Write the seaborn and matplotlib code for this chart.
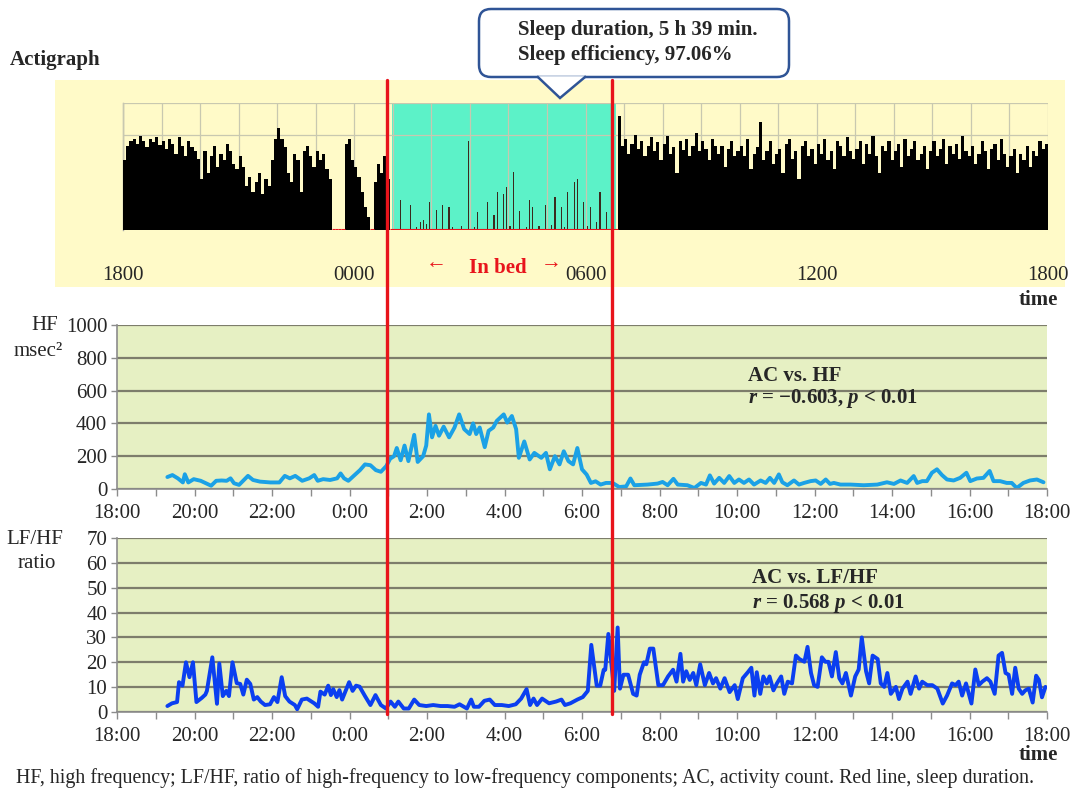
import numpy as np
import matplotlib
matplotlib.use("Agg")
import matplotlib.pyplot as plt
import matplotlib.transforms as mtransforms
from matplotlib.lines import Line2D
from matplotlib.patches import Rectangle, FancyBboxPatch, Polygon
import seaborn as sns

# ---- data (hours counted from 18:00) ----
sleep_onset = 6.97    # in bed start
sleep_offset = 12.78  # in bed end

# actigraph activity counts, 5-min bins from 18:00 (relative units)
activity = [
    55, 66, 70, 72, 68, 74, 70, 65, 72, 69, 73, 67,
    70, 64, 72, 68, 60, 73, 66, 58, 70, 65, 62, 56,
    40, 62, 45, 58, 66, 50, 60, 55, 68, 62, 52, 48,
    58, 50, 35, 42, 30, 38, 45, 28, 40, 35, 55, 72,
    80, 72, 65, 45, 38, 60, 55, 30, 62, 66, 58, 50,
    62, 55, 60, 48, 40, 0, 0, 0, 0, 68, 72, 55,
    50, 42, 30, 18, 10, 0, 38, 52, 45, 58, 40, 0,
    0, 0, 24, 0, 0, 20, 0, 2, 6, 8, 5, 22,
    0, 16, 0, 20, 0, 18, 2, 0, 0, 3, 0, 70,
    0, 2, 14, 0, 0, 22, 0, 12, 30, 0, 28, 34,
    3, 46, 0, 15, 0, 2, 24, 18, 0, 3, 0, 20,
    0, 4, 26, 0, 18, 2, 30, 0, 38, 40, 0, 22,
    3, 18, 0, 6, 30, 0, 14, 0, 12, 0, 90, 66,
    72, 60, 68, 75, 64, 70, 58, 66, 73, 62, 69, 55,
    68, 74, 60, 65, 45, 70, 63, 72, 58, 66, 76, 62,
    70, 64, 55, 72, 66, 60, 66, 50, 64, 70, 58, 62,
    66, 58, 72, 48, 60, 65, 85, 55, 62, 70, 52, 60,
    64, 45, 68, 72, 56, 62, 40, 66, 70, 58, 64, 52,
    68, 60, 72, 55, 62, 48, 70, 66, 58, 73, 62, 56,
    64, 70, 52, 68, 60, 74, 58, 45, 66, 62, 70, 55,
    62, 68, 50, 72, 58, 64, 70, 55, 60, 66, 48, 62,
    70, 58, 64, 72, 52, 66, 60, 68, 56, 74, 62, 58,
    66, 52, 60, 70, 62, 48, 64, 68, 55, 72, 60, 50,
    58, 64, 45, 60, 55, 66, 50, 62, 58, 70, 64, 68,
]

hf_hours = [
    1.30, 1.43, 1.57, 1.70, 1.75, 1.84, 1.98, 2.16, 2.34, 2.43, 2.56, 2.70,
    2.83, 2.93, 3.02, 3.15, 3.38, 3.51, 3.69, 3.96, 4.19, 4.33, 4.46, 4.60,
    4.78, 4.96, 5.09, 5.18, 5.32, 5.50, 5.68, 5.77, 5.86, 5.97, 6.13, 6.27,
    6.40, 6.54, 6.68, 6.81, 6.95, 7.05, 7.15, 7.22, 7.32, 7.42, 7.52, 7.67,
    7.76, 7.90, 7.98, 8.05, 8.13, 8.22, 8.31, 8.43, 8.57, 8.71, 8.83, 8.96,
    9.10, 9.19, 9.27, 9.36, 9.49, 9.59, 9.71, 9.80, 9.98, 10.07, 10.19, 10.30,
    10.37, 10.51, 10.65, 10.77, 10.95, 11.07, 11.17, 11.30, 11.42, 11.53, 11.65, 11.77,
    11.88, 12.00, 12.12, 12.23, 12.35, 12.48, 12.62, 12.79, 12.96, 13.14, 13.25, 13.35,
    13.69, 13.95, 14.08, 14.21, 14.36, 14.47, 14.72, 14.90, 15.07, 15.20, 15.30, 15.41,
    15.54, 15.67, 15.80, 15.93, 16.05, 16.18, 16.31, 16.44, 16.61, 16.74, 16.85, 16.96,
    17.08, 17.17, 17.30, 17.47, 17.60, 17.73, 17.90, 18.03, 18.16, 18.29, 18.40, 18.50,
    18.67, 18.93, 19.27, 19.62, 19.87, 20.05, 20.22, 20.39, 20.56, 20.65, 20.78, 20.90,
    21.03, 21.16, 21.29, 21.42, 21.59, 21.76, 21.92, 22.02, 22.19, 22.36, 22.52, 22.62,
    22.79, 22.96, 23.09, 23.22, 23.39, 23.56, 23.74, 23.91,
]
hf_values = [
    73, 85, 65, 40, 90, 40, 60, 50, 30, 20, 50, 52,
    50, 65, 35, 25, 80, 55, 45, 40, 40, 80, 65, 80,
    50, 65, 85, 50, 60, 55, 65, 95, 65, 50, 85, 115,
    150, 145, 115, 105, 140, 185, 200, 250, 175, 265, 170, 330,
    165, 200, 265, 455, 315, 385, 325, 380, 315, 375, 455, 365,
    335, 400, 335, 375, 255, 355, 375, 415, 455, 405, 445, 365,
    190, 290, 180, 220, 190, 220, 120, 200, 150, 230, 170, 150,
    250, 120, 88, 37, 47, 27, 37, 37, 12, 16, 64, 23,
    27, 33, 43, 23, 62, 27, 23, 6, 37, 27, 83, 33,
    68, 37, 79, 37, 58, 37, 58, 27, 52, 37, 68, 37,
    89, 41, 23, 52, 27, 37, 48, 52, 31, 58, 31, 37,
    27, 27, 23, 27, 41, 31, 52, 37, 79, 37, 48, 48,
    99, 120, 85, 58, 52, 68, 99, 48, 64, 68, 110, 48,
    48, 37, 37, 6, 37, 52, 58, 41,
]

lf_hours = [
    1.30, 1.42, 1.55, 1.60, 1.69, 1.78, 1.87, 1.96, 2.05, 2.19, 2.28, 2.32,
    2.46, 2.58, 2.64, 2.73, 2.82, 2.89, 2.98, 3.09, 3.18, 3.26, 3.35, 3.44,
    3.53, 3.62, 3.71, 3.82, 3.95, 4.05, 4.14, 4.25, 4.34, 4.45, 4.59, 4.65,
    4.77, 4.90, 5.09, 5.19, 5.25, 5.36, 5.45, 5.52, 5.58, 5.67, 5.74, 5.81,
    5.90, 5.99, 6.08, 6.17, 6.26, 6.40, 6.54, 6.67, 6.81, 6.94, 7.06, 7.17,
    7.26, 7.40, 7.53, 7.67, 7.80, 7.98, 8.16, 8.35, 8.53, 8.71, 8.84, 9.03,
    9.14, 9.21, 9.34, 9.48, 9.62, 9.75, 9.93, 10.11, 10.29, 10.43, 10.57, 10.66,
    10.75, 10.84, 10.97, 11.15, 11.33, 11.47, 11.56, 11.70, 11.88, 12.02, 12.15, 12.24,
    12.38, 12.47, 12.56, 12.60, 12.68, 12.83, 12.92, 12.98, 13.07, 13.19, 13.32, 13.41,
    13.49, 13.60, 13.66, 13.75, 13.84, 13.97, 14.09, 14.22, 14.35, 14.44, 14.54, 14.61,
    14.69, 14.78, 14.87, 14.95, 15.05, 15.17, 15.28, 15.38, 15.46, 15.57, 15.68, 15.81,
    15.94, 16.02, 16.15, 16.28, 16.37, 16.45, 16.51, 16.60, 16.68, 16.77, 16.84, 16.94,
    17.03, 17.14, 17.22, 17.31, 17.42, 17.52, 17.61, 17.74, 17.82, 17.91, 17.99, 18.08,
    18.19, 18.28, 18.36, 18.45, 18.55, 18.64, 18.72, 18.81, 18.94, 19.05, 19.14, 19.22,
    19.33, 19.41, 19.50, 19.63, 19.71, 19.80, 19.88, 19.97, 20.10, 20.18, 20.27, 20.40,
    20.48, 20.61, 20.70, 20.78, 20.91, 21.04, 21.17, 21.31, 21.42, 21.55, 21.64, 21.72,
    21.81, 21.91, 22.05, 22.15, 22.24, 22.33, 22.45, 22.54, 22.65, 22.75, 22.84, 22.93,
    23.01, 23.10, 23.18, 23.27, 23.36, 23.44, 23.53, 23.63, 23.72, 23.79, 23.87, 23.96,
]
lf_values = [
    2.4, 3.5, 4, 12, 10.6, 20, 14, 20, 4, 5.7, 7, 8.5,
    22, 3.3, 19.5, 6.4, 8.5, 6.4, 20, 11.6, 11.3, 7, 13, 11.3,
    5, 6, 4.2, 2.8, 3.1, 6, 4, 14, 6.4, 4.2, 2.8, 1.1,
    5, 5.4, 3.5, 2.1, 8.2, 7, 10.6, 6.8, 9.2, 6, 8.8, 5,
    8.5, 12, 8.5, 10.6, 10.2, 6.4, 2.8, 6.8, 2.8, 1.4, 4.2, 2.1,
    4.2, 1.4, 1.4, 5, 2.8, 2.4, 2.8, 2.4, 2.4, 2.1, 3.1, 1.4,
    5, 2.1, 2.1, 4.5, 5, 2.8, 2.8, 2.4, 3.1, 5.4, 9.2, 2.8,
    5.4, 2.8, 5.4, 3.5, 4.2, 5, 2.8, 3.5, 5, 6, 8.5, 27,
    10.6, 10.6, 17, 17, 31.4, 8.5, 34, 9.4, 15, 15, 7.3, 6.6,
    15, 20, 19.2, 25.5, 25.5, 10.8, 10.8, 14.3, 17, 12.2, 23.4, 12.2,
    16.4, 12.9, 15.7, 10.8, 19.2, 10.8, 15.7, 11.5, 13.6, 9.4, 13.6, 8,
    10.8, 5.2, 13.6, 16, 17.8, 6.6, 16, 7.3, 14.3, 11.5, 14.3, 8.7,
    11.5, 14.3, 7.3, 12.2, 11.5, 22.7, 21.3, 20.2, 26.2, 15.7, 10.8, 10.1,
    22, 20.2, 20.2, 14.3, 24.1, 13.6, 11.5, 15.7, 6.6, 14.3, 17.1, 30,
    16.4, 11.5, 22.7, 21.3, 11.5, 10.1, 15.7, 7.3, 10.1, 5.2, 9.4, 12.2,
    7.3, 14.3, 9.4, 12.2, 10.8, 10.8, 9.4, 3.4, 6.6, 11.5, 10.8, 12.2,
    6.6, 11.5, 3.4, 17.1, 10.8, 12.2, 13.6, 12.2, 7.3, 22.7, 23.8, 15.7,
    15, 7.3, 17.8, 9.4, 7.3, 8.7, 9.4, 3.8, 14.6, 12.9, 5.9, 10.1,
]

acti_tick_labels = ["1800", "0000", "0600", "1200", "1800"]
clock_labels = ["18:00", "20:00", "22:00", "0:00", "2:00", "4:00", "6:00",
                "8:00", "10:00", "12:00", "14:00", "16:00", "18:00"]

# ---- style ----
sns.set_theme(style="white")
plt.rcParams["font.family"] = ["Liberation Serif", "DejaVu Serif"]
plt.rcParams["mathtext.fontset"] = "custom"
plt.rcParams["mathtext.it"] = "Liberation Serif:italic:bold"
plt.rcParams["mathtext.rm"] = "Liberation Serif:bold"

YELLOW = "#FFFAC8"
GREEN = "#E6F0C3"
CYAN = "#5CF2C8"
GRID = "#7D7D6B"
RED = "#E8141B"
FS = 15

W, H = 1071, 790
fig = plt.figure(figsize=(W / 100, H / 100), dpi=100)


def box(x0, y0, x1, y1):
    # pixel box (top-left origin) -> figure fraction rect
    return [x0 / W, 1 - y1 / H, (x1 - x0) / W, (y1 - y0) / H]


# yellow backdrop of the actigraph
fig.add_artist(Rectangle((55 / W, 1 - 287 / H), 1010 / W, 207 / H,
                         transform=fig.transFigure, facecolor=YELLOW,
                         edgecolor="none", zorder=-1))

# ---- actigraph ----
ax_a = fig.add_axes(box(123, 103, 1048, 230))
ax_a.set_facecolor(YELLOW)
bin_start = np.arange(len(activity)) / 12.0
act = np.array(activity, dtype=float)
in_bed = (bin_start >= sleep_onset - 0.05) & (bin_start < sleep_offset)
ax_a.axvspan(sleep_onset, sleep_offset, color=CYAN, zorder=1, lw=0)
ax_a.bar(bin_start[~in_bed], act[~in_bed], width=1 / 12, align="edge",
         color="black", linewidth=0, zorder=3)
ax_a.bar(bin_start[in_bed] + 1 / 24, act[in_bed], width=0.03, align="center",
         color="#3B2A1E", linewidth=0, zorder=3)
zero = act == 0
ax_a.hlines(np.zeros(zero.sum()), bin_start[zero], bin_start[zero] + 1 / 12,
            color=RED, lw=2.2, zorder=4)
ax_a.hlines(0, sleep_onset, sleep_offset, color=RED, lw=2.2, zorder=4)
ax_a.set_xlim(0, 24)
ax_a.set_ylim(0, 100)
ax_a.set_yticks([75, 100])
ax_a.set_yticklabels([])
ax_a.set_xticks(np.arange(0, 25, 1), minor=True)
ax_a.set_xticks([0, 6, 12, 18, 24])
ax_a.set_xticklabels(acti_tick_labels, fontsize=FS)
ax_a.tick_params(axis="x", which="both", length=0, pad=26)
ax_a.tick_params(axis="y", length=0)
ax_a.grid(True, which="both", color="#C8C8B0", lw=0.9, zorder=2)
ax_a.set_axisbelow(False)
for side in ["top", "right", "bottom"]:
    ax_a.spines[side].set_visible(False)
ax_a.spines["left"].set_color("#A0A0A0")
ax_a.spines["left"].set_linewidth(1)


def style_panel(ax, yticks):
    ax.set_facecolor(GREEN)
    ax.set_xlim(0, 24)
    ax.set_ylim(yticks[0], yticks[-1])
    ax.set_yticks(yticks)
    ax.set_yticklabels([str(v) for v in yticks], fontsize=FS)
    ax.set_xticks(np.arange(0, 25, 1), minor=True)
    ax.set_xticks(np.arange(0, 25, 2))
    ax.set_xticklabels(clock_labels, fontsize=FS)
    ax.tick_params(axis="x", which="both", length=5, width=1, color="#8C8C8C",
                   direction="out", pad=6, bottom=True)
    ax.tick_params(axis="y", length=4, width=1, color="#8C8C8C",
                   direction="out", pad=3, left=True)
    ax.yaxis.grid(True, color=GRID, lw=1.6)
    ax.xaxis.grid(False)
    ax.set_axisbelow(True)
    for side in ["top", "right"]:
        ax.spines[side].set_visible(False)
    for side in ["left", "bottom"]:
        ax.spines[side].set_color("#8C8C8C")
        ax.spines[side].set_linewidth(1.2)
    ax.set_xlabel("")
    ax.set_ylabel("")


# ---- HF ----
ax_h = fig.add_axes(box(117, 325, 1047, 489))
sns.lineplot(x=hf_hours, y=hf_values, ax=ax_h, color="#1BA1E6", lw=2.8,
             estimator=None, sort=True)
style_panel(ax_h, [0, 200, 400, 600, 800, 1000])
ax_h.text(0.679, 0.69, "AC vs. HF", transform=ax_h.transAxes, fontsize=FS,
          fontweight="bold", va="center")
ax_h.text(0.679, 0.55, "$r$ = \u22120.603, $p$ < 0.01", transform=ax_h.transAxes,
          fontsize=FS, fontweight="bold", va="center")

# ---- LF/HF ----
ax_l = fig.add_axes(box(117, 538, 1047, 712))
sns.lineplot(x=lf_hours, y=lf_values, ax=ax_l, color="#0B3FF0", lw=2.8,
             estimator=None, sort=True)
style_panel(ax_l, [0, 10, 20, 30, 40, 50, 60, 70])
ax_l.text(0.683, 0.77, "AC vs. LF/HF", transform=ax_l.transAxes, fontsize=FS,
          fontweight="bold", va="center")
ax_l.text(0.683, 0.625, "$r$ = 0.568 $p$ < 0.01", transform=ax_l.transAxes,
          fontsize=FS, fontweight="bold", va="center")

# ---- red sleep lines across all panels ----
trans = mtransforms.blended_transform_factory(ax_h.transData, fig.transFigure)
for t in (sleep_onset, sleep_offset):
    fig.add_artist(Line2D([t, t], [1 - 80 / H, 1 - 714 / H], transform=trans,
                          color=RED, lw=2.4, zorder=6))

# ---- overlay annotations in pixel space ----
ov = fig.add_axes([0, 0, 1, 1], zorder=10)
ov.set_xlim(0, W)
ov.set_ylim(H, 0)
ov.axis("off")
ov.patch.set_alpha(0)

ov.add_patch(FancyBboxPatch((479, 9), 310, 68,
                            boxstyle="round,pad=0,rounding_size=12",
                            facecolor="white", edgecolor="#2F5496", lw=1.8))
ov.add_patch(Polygon([(537, 76.2), (560, 98), (586, 76.2)], closed=False,
                     facecolor="white", edgecolor="#2F5496", lw=1.8))
ov.text(518, 30, "Sleep duration, 5 h 39 min.", fontsize=FS, fontweight="bold",
        va="center")
ov.text(518, 55, "Sleep efficiency, 97.06%", fontsize=FS, fontweight="bold",
        va="center")

ov.text(10, 60, "Actigraph", fontsize=FS, fontweight="bold", va="center")
ov.text(436, 264, "\u2190", fontsize=FS, color=RED, ha="center", va="center")
ov.text(498, 268, "In bed", fontsize=FS, color=RED, fontweight="bold",
        ha="center", va="center")
ov.text(551, 264, "\u2192", fontsize=FS, color=RED, ha="center", va="center")
ov.text(1058, 300, "time", fontsize=FS, fontweight="bold", ha="right", va="center")
ov.text(1058, 755, "time", fontsize=FS, fontweight="bold", ha="right", va="center")

ov.text(58, 325, "HF", fontsize=FS, ha="right", va="center")
ov.text(63, 351, "msec\u00b2", fontsize=FS, ha="right", va="center")
ov.text(63, 539, "LF/HF", fontsize=FS, ha="right", va="center")
ov.text(56, 563, "ratio", fontsize=FS, ha="right", va="center")

ov.text(16, 778, "HF, high frequency; LF/HF, ratio of high-frequency to "
        "low-frequency components; AC, activity count. Red line, sleep duration.",
        fontsize=14.4, va="center")

fig.savefig("out.png", dpi=100)
